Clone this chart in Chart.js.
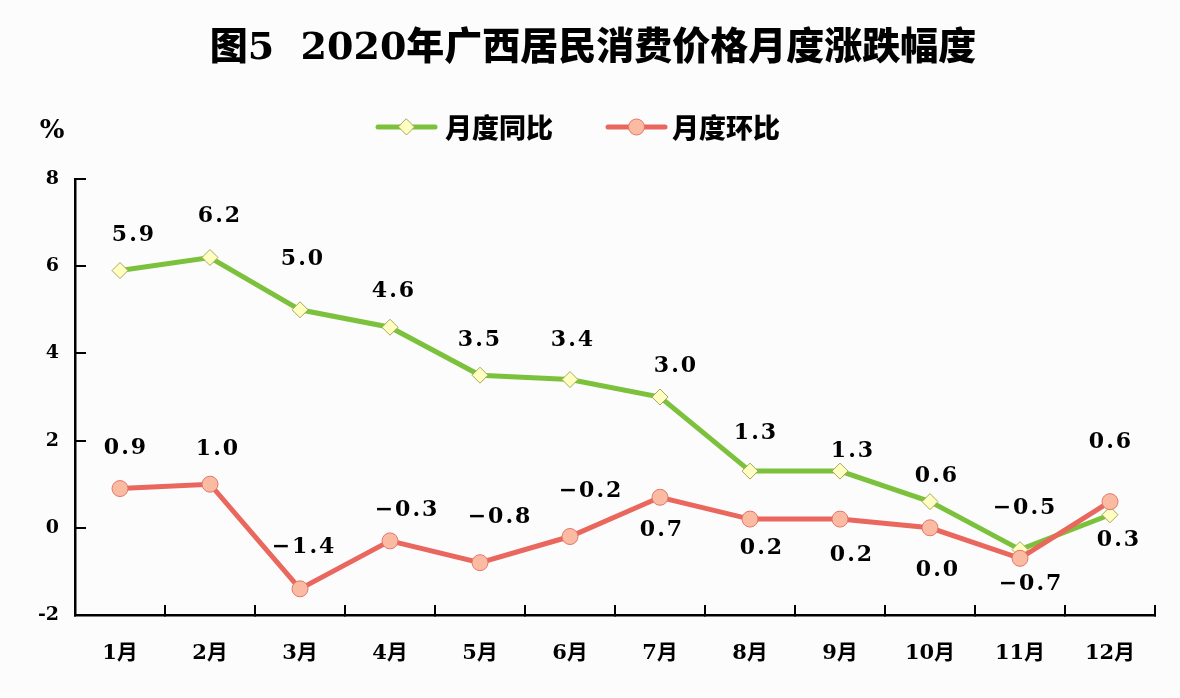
<!DOCTYPE html>
<html lang="zh-CN">
<head>
<meta charset="utf-8">
<title>图5 2020年广西居民消费价格月度涨跌幅度</title>
<script src="https://cdn.jsdelivr.net/npm/chart.js@4.4.1/dist/chart.umd.min.js"></script>
<style>
  html, body { margin: 0; padding: 0; background: #fcfcfd; }
  #wrap { width: 1180px; height: 698px; }
</style>
</head>
<body>
<div id="wrap"><canvas id="cpiChart" width="1180" height="698"></canvas></div>
<script>
// 数据
const months = ['1月', '2月', '3月', '4月', '5月', '6月', '7月', '8月', '9月', '10月', '11月', '12月'];
const yoyValues = [5.9, 6.2, 5.0, 4.6, 3.5, 3.4, 3.0, 1.3, 1.3, 0.6, -0.5, 0.3];   // 月度同比
const momValues = [0.9, 1.0, -1.4, -0.3, -0.8, -0.2, 0.7, 0.2, 0.2, 0.0, -0.7, 0.6]; // 月度环比
const yTicks = [-2, 0, 2, 4, 6, 8];
const chartTitle = '图5  2020年广西居民消费价格月度涨跌幅度';

// 数值标签相对数据点的偏移 [dx, dy]
const yoyLabelOffsets = [[13, -35], [9, -41], [2, -51], [3, -36], [-1, -35], [2, -39],
  [15, -31], [5, -38], [12, -20], [6, -25], [4, -41], [8, 26]];
const momLabelOffsets = [[5, -40], [7, -35], [3, -42], [16, -31], [19, -45], [20, -45],
  [1, 33], [11, 29], [11, 36], [7, 42], [10, 26], [0, -59]];

const GREEN = '#7cc13b';
const RED = '#e9675d';
const numFont = '"DejaVu Serif", "Liberation Serif", serif';
const cjkFont = '"DejaVu Serif", "Noto Sans CJK SC", sans-serif';

function fmt(v) {
  return v.toFixed(1).replace('-', '\u2212');
}

// 数值标签
const valueLabels = {
  id: 'valueLabels',
  afterDatasetsDraw(chart) {
    const ctx = chart.ctx;
    const offsets = [yoyLabelOffsets, momLabelOffsets];
    ctx.save();
    ctx.font = 'bold 22px ' + numFont;
    ctx.letterSpacing = '2px';
    ctx.fillStyle = '#000';
    ctx.textAlign = 'left';
    ctx.textBaseline = 'middle';
    chart.data.datasets.forEach((ds, di) => {
      const meta = chart.getDatasetMeta(di);
      meta.data.forEach((pt, i) => {
        const txt = fmt(ds.data[i]);
        const w = ctx.measureText(txt).width - 2;
        const [dx, dy] = offsets[di][i];
        ctx.fillText(txt, pt.x + dx - w / 2, pt.y + dy);
      });
    });
    ctx.restore();
  }
};

// 标题、图例和单位
const legendAndUnit = {
  id: 'legendAndUnit',
  afterDraw(chart) {
    const ctx = chart.ctx;
    ctx.save();
    ctx.fillStyle = '#000';
    ctx.textAlign = 'center';
    ctx.textBaseline = 'middle';
    ctx.font = '900 38px ' + cjkFont;
    ctx.fillText(chartTitle, 593, 49);

    ctx.font = 'bold 26px ' + numFont;
    ctx.fillText('%', 52, 131);

    const y = 127;
    const items = [
      { x1: 378, x2: 435, color: GREEN, text: chart.data.datasets[0].label, tx: 445, shape: 'diamond' },
      { x1: 608, x2: 665, color: RED, text: chart.data.datasets[1].label, tx: 672, shape: 'circle' }
    ];
    items.forEach(it => {
      ctx.strokeStyle = it.color;
      ctx.lineWidth = 5;
      ctx.lineCap = 'round';
      ctx.beginPath();
      ctx.moveTo(it.x1, y);
      ctx.lineTo(it.x2, y);
      ctx.stroke();
      const cx = (it.x1 + it.x2) / 2;
      ctx.lineWidth = 1;
      ctx.beginPath();
      if (it.shape === 'diamond') {
        ctx.moveTo(cx, y - 8);
        ctx.lineTo(cx + 8, y);
        ctx.lineTo(cx, y + 8);
        ctx.lineTo(cx - 8, y);
        ctx.closePath();
        ctx.fillStyle = '#ffffc2';
        ctx.strokeStyle = '#a7a65a';
      } else {
        ctx.arc(cx, y, 8, 0, Math.PI * 2);
        ctx.fillStyle = '#fbbba3';
        ctx.strokeStyle = '#e2766a';
      }
      ctx.fill();
      ctx.stroke();
      ctx.fillStyle = '#000';
      ctx.font = '900 27px "Noto Sans CJK SC"';
      ctx.textAlign = 'left';
      ctx.fillText(it.text, it.tx, y + 1);
    });
    ctx.restore();
  }
};

const ctx = document.getElementById('cpiChart').getContext('2d');
new Chart(ctx, {
  type: 'line',
  data: {
    labels: months,
    datasets: [
      {
        label: '月度同比',
        data: yoyValues,
        borderColor: GREEN,
        borderWidth: 5,
        tension: 0,
        pointStyle: 'rectRot',
        pointRadius: 8,
        pointBorderWidth: 1,
        pointBackgroundColor: '#ffffc2',
        pointBorderColor: '#a7a65a',
        order: 2
      },
      {
        label: '月度环比',
        data: momValues,
        borderColor: RED,
        borderWidth: 5,
        tension: 0,
        pointStyle: 'circle',
        pointRadius: 8,
        pointBorderWidth: 1,
        pointBackgroundColor: '#fbbba3',
        pointBorderColor: '#e2766a',
        order: 1
      }
    ]
  },
  options: {
    responsive: false,
    animation: false,
    layout: { padding: { left: 0, right: 25, top: 179, bottom: 0 } },
    plugins: {
      legend: { display: false },
      tooltip: { enabled: false },
      title: { display: false }
    },
    scales: {
      x: {
        offset: true,
        grid: { offset: true, drawOnChartArea: false, color: '#000', lineWidth: 2, tickLength: -10 },
        border: { color: '#000', width: 2.5 },
        ticks: { color: '#000', padding: 36, font: { family: cjkFont, size: 21, weight: 'bold' } },
        afterFit(scale) { scale.height = 83; }
      },
      y: {
        min: yTicks[0],
        max: yTicks[yTicks.length - 1],
        ticks: {
          stepSize: yTicks[1] - yTicks[0],
          color: '#000',
          padding: 27,
          font: { family: numFont, size: 19, weight: 'bold' }
        },
        grid: { drawOnChartArea: false, color: '#000', lineWidth: 2, tickLength: -11 },
        border: { color: '#000', width: 2.5 },
        afterFit(scale) { scale.width = 75; }
      }
    }
  },
  plugins: [valueLabels, legendAndUnit]
});
</script>
</body>
</html>
